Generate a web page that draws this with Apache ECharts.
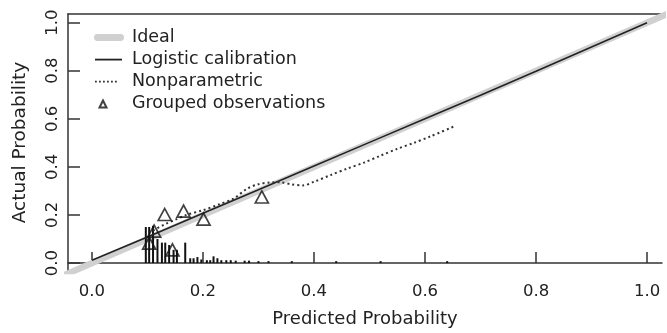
<!DOCTYPE html>
<html>
<head>
<meta charset="utf-8">
<script src="https://cdn.jsdelivr.net/npm/echarts@6/dist/echarts.min.js"></script>
<style>
html,body{margin:0;padding:0;background:#fff;}
#chart{width:667px;height:333px;}
</style>
</head>
<body>
<div id="chart"></div>
<script>
// ---- data ----
const tickValues = [0, 0.2, 0.4, 0.6, 0.8, 1.0];
const idealLine = [[-0.1, -0.1], [1.1, 1.1]];
const logisticCal = [[0, 0.012], [0.1, 0.108], [0.2, 0.207], [0.3, 0.305], [0.4, 0.404], [0.5, 0.502],
  [0.6, 0.6], [0.7, 0.698], [0.8, 0.798], [0.9, 0.899], [1.0, 1.0]];
const nonparametric = [[0.11, 0.135], [0.13, 0.16], [0.15, 0.18], [0.17, 0.2], [0.2, 0.22], [0.23, 0.245],
  [0.255, 0.268], [0.28, 0.31], [0.3, 0.328], [0.32, 0.335], [0.34, 0.336], [0.36, 0.327], [0.38, 0.323],
  [0.4, 0.338], [0.43, 0.366], [0.46, 0.393], [0.49, 0.418], [0.52, 0.447], [0.55, 0.475], [0.58, 0.5],
  [0.61, 0.527], [0.651, 0.567]];
const groupedObs = [[0.103, 0.083], [0.112, 0.133], [0.131, 0.202], [0.145, 0.055], [0.165, 0.216],
  [0.201, 0.183], [0.306, 0.275]];
const rugSpikes = [[0.097, 0.15], [0.103, 0.15], [0.110, 0.155], [0.118, 0.10], [0.126, 0.085], [0.132, 0.085],
  [0.139, 0.075], [0.147, 0.055], [0.153, 0.055], [0.168, 0.085], [0.177, 0.02], [0.183, 0.02], [0.190, 0.025],
  [0.197, 0.015], [0.207, 0.012], [0.213, 0.012], [0.219, 0.028], [0.226, 0.02], [0.233, 0.012], [0.242, 0.012],
  [0.25, 0.012], [0.259, 0.01], [0.275, 0.01], [0.283, 0.01], [0.3, 0.008], [0.318, 0.008], [0.36, 0.008],
  [0.44, 0.008], [0.52, 0.008], [0.64, 0.008]];
const legendNames = ['Ideal', 'Logistic calibration', 'Nonparametric', 'Grouped observations'];

const FONT = 'DejaVu Sans';
const INK = '#222';
const GRAY = '#d0d0d0';
const BOX = 'M0,0M30,12';
const dotPath = [1, 5, 9, 13, 17, 21].map(x => 'M' + x + ',5.2L' + (x + 1.8) + ',5.2L' + (x + 1.8) + ',7L' + x + ',7Z').join('');
const chart = echarts.init(document.getElementById('chart'), null, {renderer: 'canvas'});
chart.setOption({
  animation: false,
  backgroundColor: '#fff',
  textStyle: {fontFamily: FONT},
  grid: {left: 68, top: 14, width: 594, height: 259, show: false},
  legend: {
    orient: 'vertical', left: 93, top: 28.5, padding: 0,
    itemWidth: 30, itemHeight: 12, itemGap: 4,
    textStyle: {fontFamily: FONT, fontSize: 17.5, color: INK, lineHeight: 16, padding: [0, 0, 0, 3]},
    data: [
      {name: legendNames[0], icon: 'path://M3.5,2.5L27,2.5A3.5,3.5,0,0,1,27,9.5L3.5,9.5A3.5,3.5,0,0,1,3.5,2.5Z' + BOX,
        itemStyle: {color: GRAY, borderWidth: 0}},
      {name: legendNames[1], icon: 'path://M1,5.2L28,5.2L28,7L1,7Z' + BOX, itemStyle: {color: INK, borderWidth: 0}},
      {name: legendNames[2], icon: 'path://' + dotPath + BOX, itemStyle: {color: '#333', borderWidth: 0}},
      {name: legendNames[3], icon: 'path://M5.5,10L9,3L12.5,10Z' + BOX}
    ]
  },
  xAxis: [{
    type: 'value', min: -0.0432, max: 1.027, position: 'bottom',
    name: 'Predicted Probability', nameLocation: 'middle', nameGap: 39,
    nameTextStyle: {fontFamily: FONT, fontSize: 18, color: INK},
    axisLine: {show: true, lineStyle: {color: '#333', width: 1.5}},
    axisTick: {show: true, inside: true, length: 11, customValues: tickValues, lineStyle: {color: '#333', width: 1.5}},
    axisLabel: {show: true, margin: 12, customValues: tickValues, fontSize: 16.5, color: INK, fontFamily: FONT,
      formatter: v => v.toFixed(1)},
    splitLine: {show: false}
  }, {
    type: 'value', min: -0.0432, max: 1.027, position: 'top',
    axisLine: {show: true, onZero: false, lineStyle: {color: '#333', width: 1.5}},
    axisTick: {show: false}, axisLabel: {show: false}, splitLine: {show: false}
  }],
  yAxis: {
    type: 'value', min: -0.033, max: 1.036,
    name: 'Actual Probability', nameLocation: 'middle', nameGap: 38,
    nameTextStyle: {fontFamily: FONT, fontSize: 18.5, color: INK},
    axisLine: {show: true, onZero: false, lineStyle: {color: '#333', width: 1.5}},
    axisTick: {show: true, inside: true, length: 12, customValues: tickValues, lineStyle: {color: '#333', width: 1.5}},
    axisLabel: {show: true, rotate: 90, margin: 7, customValues: tickValues, fontSize: 16.5, color: INK, fontFamily: FONT,
      formatter: v => v.toFixed(1)},
    splitLine: {show: false}
  },
  series: [
    {
      name: legendNames[0], type: 'line', data: idealLine, symbol: 'none', clip: true,
      lineStyle: {color: GRAY, width: 6.5, cap: 'round'}, itemStyle: {color: GRAY}, z: 1
    },
    {
      name: legendNames[1], type: 'line', data: logisticCal, symbol: 'none',
      lineStyle: {color: INK, width: 1.6}, itemStyle: {color: INK}, z: 3
    },
    {
      name: legendNames[2], type: 'line', data: nonparametric, symbol: 'none', smooth: 0.3,
      lineStyle: {color: '#333', width: 2, type: [2, 3]}, itemStyle: {color: '#333'}, z: 3
    },
    {
      name: legendNames[3], type: 'scatter', data: groupedObs, symbol: 'triangle', symbolSize: [13, 12],
      itemStyle: {color: 'rgba(0,0,0,0)', borderColor: '#111', borderWidth: 1.7}, z: 4
    },
    {
      name: 'rug', type: 'custom', data: rugSpikes, z: 2,
      renderItem: function (params, api) {
        const x = api.value(0), h = api.value(1);
        const p0 = api.coord([x, 0]);
        const p1 = api.coord([x, h]);
        return {type: 'line', shape: {x1: p0[0], y1: p0[1], x2: p1[0], y2: p1[1]},
          style: {stroke: '#111', lineWidth: 2}};
      }
    }
  ]
});
</script>
</body>
</html>
